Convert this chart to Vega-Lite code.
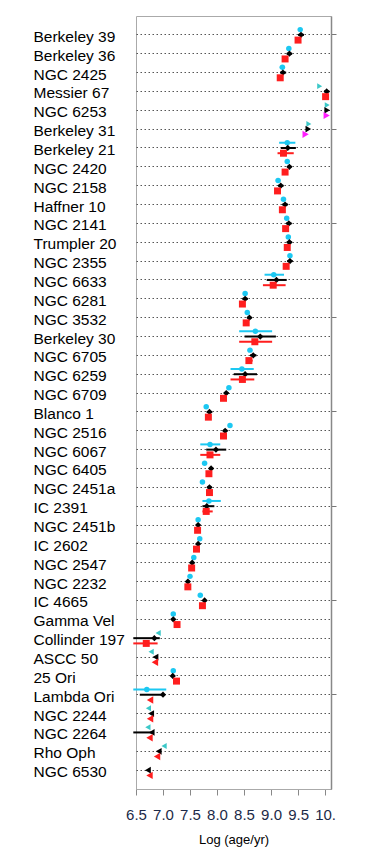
{
  "$schema": "https://vega.github.io/schema/vega-lite/v6.json",
  "autosize": "none",
  "width": 195,
  "height": 773,
  "padding": {"left": 136, "top": 16, "right": 51, "bottom": 76},
  "background": "white",
  "config": {
    "view": {"stroke": "#aaaaaa", "strokeWidth": 1},
    "font": "Liberation Sans",
    "axisX": {"labelOverlap": false, "labelFlush": false, "labelBound": false}
  },
  "data": {
    "values": [
      {"cluster": "Berkeley 39", "method": "A", "sym": "A", "value": 9.54},
      {"cluster": "Berkeley 39", "method": "B", "sym": "B", "value": 9.555, "lo": 9.5, "hi": 9.61},
      {"cluster": "Berkeley 39", "method": "C", "sym": "C", "value": 9.5},
      {"cluster": "Berkeley 36", "method": "A", "sym": "A", "value": 9.33, "lo": 9.29, "hi": 9.37},
      {"cluster": "Berkeley 36", "method": "B", "sym": "B", "value": 9.34, "lo": 9.29, "hi": 9.39},
      {"cluster": "Berkeley 36", "method": "C", "sym": "C", "value": 9.26, "lo": 9.22, "hi": 9.3},
      {"cluster": "NGC 2425", "method": "A", "sym": "A", "value": 9.21, "lo": 9.16, "hi": 9.26},
      {"cluster": "NGC 2425", "method": "B", "sym": "B", "value": 9.22, "lo": 9.17, "hi": 9.28},
      {"cluster": "NGC 2425", "method": "C", "sym": "C", "value": 9.17, "lo": 9.13, "hi": 9.21},
      {"cluster": "Messier 67", "method": "A", "sym": "A>", "value": 9.9},
      {"cluster": "Messier 67", "method": "B", "sym": "B", "value": 10.03, "lo": 9.98, "hi": 10.08},
      {"cluster": "Messier 67", "method": "C", "sym": "C", "value": 10.01, "lo": 9.97, "hi": 10.05},
      {"cluster": "NGC 6253", "method": "A", "sym": "A>", "value": 10.04},
      {"cluster": "NGC 6253", "method": "B", "sym": "B>", "value": 10.04},
      {"cluster": "NGC 6253", "method": "C", "sym": "C>", "value": 10.03},
      {"cluster": "Berkeley 31", "method": "A", "sym": "A>", "value": 9.7},
      {"cluster": "Berkeley 31", "method": "B", "sym": "B>", "value": 9.69},
      {"cluster": "Berkeley 31", "method": "C", "sym": "C>", "value": 9.64},
      {"cluster": "Berkeley 21", "method": "A", "sym": "A", "value": 9.3, "lo": 9.15, "hi": 9.45},
      {"cluster": "Berkeley 21", "method": "B", "sym": "B", "value": 9.31, "lo": 9.18, "hi": 9.46},
      {"cluster": "Berkeley 21", "method": "C", "sym": "C", "value": 9.23, "lo": 9.12, "hi": 9.42},
      {"cluster": "NGC 2420", "method": "A", "sym": "A", "value": 9.3},
      {"cluster": "NGC 2420", "method": "B", "sym": "B", "value": 9.34, "lo": 9.3, "hi": 9.38},
      {"cluster": "NGC 2420", "method": "C", "sym": "C", "value": 9.26},
      {"cluster": "NGC 2158", "method": "A", "sym": "A", "value": 9.13, "lo": 9.09, "hi": 9.17},
      {"cluster": "NGC 2158", "method": "B", "sym": "B", "value": 9.18, "lo": 9.13, "hi": 9.23},
      {"cluster": "NGC 2158", "method": "C", "sym": "C", "value": 9.12, "lo": 9.07, "hi": 9.17},
      {"cluster": "Haffner 10", "method": "A", "sym": "A", "value": 9.23, "lo": 9.19, "hi": 9.27},
      {"cluster": "Haffner 10", "method": "B", "sym": "B", "value": 9.26, "lo": 9.21, "hi": 9.31},
      {"cluster": "Haffner 10", "method": "C", "sym": "C", "value": 9.21, "lo": 9.17, "hi": 9.25},
      {"cluster": "NGC 2141", "method": "A", "sym": "A", "value": 9.29},
      {"cluster": "NGC 2141", "method": "B", "sym": "B", "value": 9.33, "lo": 9.28, "hi": 9.38},
      {"cluster": "NGC 2141", "method": "C", "sym": "C", "value": 9.27},
      {"cluster": "Trumpler 20", "method": "A", "sym": "A", "value": 9.32, "lo": 9.28, "hi": 9.36},
      {"cluster": "Trumpler 20", "method": "B", "sym": "B", "value": 9.34, "lo": 9.29, "hi": 9.39},
      {"cluster": "Trumpler 20", "method": "C", "sym": "C", "value": 9.3, "lo": 9.25, "hi": 9.35},
      {"cluster": "NGC 2355", "method": "A", "sym": "A", "value": 9.35, "lo": 9.31, "hi": 9.39},
      {"cluster": "NGC 2355", "method": "B", "sym": "B", "value": 9.35, "lo": 9.3, "hi": 9.4},
      {"cluster": "NGC 2355", "method": "C", "sym": "C", "value": 9.28, "lo": 9.23, "hi": 9.33},
      {"cluster": "NGC 6633", "method": "A", "sym": "A", "value": 9.05, "lo": 8.88, "hi": 9.24},
      {"cluster": "NGC 6633", "method": "B", "sym": "B", "value": 9.1, "lo": 8.92, "hi": 9.29},
      {"cluster": "NGC 6633", "method": "C", "sym": "C", "value": 9.04, "lo": 8.85, "hi": 9.27},
      {"cluster": "NGC 6281", "method": "A", "sym": "A", "value": 8.52, "lo": 8.48, "hi": 8.56},
      {"cluster": "NGC 6281", "method": "B", "sym": "B", "value": 8.52, "lo": 8.47, "hi": 8.57},
      {"cluster": "NGC 6281", "method": "C", "sym": "C", "value": 8.47, "lo": 8.43, "hi": 8.51},
      {"cluster": "NGC 3532", "method": "A", "sym": "A", "value": 8.56},
      {"cluster": "NGC 3532", "method": "B", "sym": "B", "value": 8.6, "lo": 8.56, "hi": 8.64},
      {"cluster": "NGC 3532", "method": "C", "sym": "C", "value": 8.54},
      {"cluster": "Berkeley 30", "method": "A", "sym": "A", "value": 8.71, "lo": 8.41, "hi": 9.02},
      {"cluster": "Berkeley 30", "method": "B", "sym": "B", "value": 8.8, "lo": 8.51, "hi": 9.09},
      {"cluster": "Berkeley 30", "method": "C", "sym": "C", "value": 8.7, "lo": 8.41, "hi": 9.02},
      {"cluster": "NGC 6705", "method": "A", "sym": "A", "value": 8.61, "lo": 8.57, "hi": 8.65},
      {"cluster": "NGC 6705", "method": "B", "sym": "B", "value": 8.67, "lo": 8.61, "hi": 8.73},
      {"cluster": "NGC 6705", "method": "C", "sym": "C", "value": 8.59, "lo": 8.54, "hi": 8.66},
      {"cluster": "NGC 6259", "method": "A", "sym": "A", "value": 8.46, "lo": 8.25, "hi": 8.68},
      {"cluster": "NGC 6259", "method": "B", "sym": "B", "value": 8.52, "lo": 8.31, "hi": 8.74},
      {"cluster": "NGC 6259", "method": "C", "sym": "C", "value": 8.47, "lo": 8.25, "hi": 8.69},
      {"cluster": "NGC 6709", "method": "A", "sym": "A", "value": 8.22},
      {"cluster": "NGC 6709", "method": "B", "sym": "B", "value": 8.17, "lo": 8.13, "hi": 8.21},
      {"cluster": "NGC 6709", "method": "C", "sym": "C", "value": 8.12},
      {"cluster": "Blanco 1", "method": "A", "sym": "A", "value": 7.8, "lo": 7.77, "hi": 7.83},
      {"cluster": "Blanco 1", "method": "B", "sym": "B", "value": 7.86, "lo": 7.81, "hi": 7.91},
      {"cluster": "Blanco 1", "method": "C", "sym": "C", "value": 7.84},
      {"cluster": "NGC 2516", "method": "A", "sym": "A", "value": 8.24},
      {"cluster": "NGC 2516", "method": "B", "sym": "B", "value": 8.15, "lo": 8.11, "hi": 8.19},
      {"cluster": "NGC 2516", "method": "C", "sym": "C", "value": 8.12},
      {"cluster": "NGC 6067", "method": "A", "sym": "A", "value": 7.87, "lo": 7.69, "hi": 8.06},
      {"cluster": "NGC 6067", "method": "B", "sym": "B", "value": 7.98, "lo": 7.8, "hi": 8.17},
      {"cluster": "NGC 6067", "method": "C", "sym": "C", "value": 7.87, "lo": 7.69, "hi": 8.06},
      {"cluster": "NGC 6405", "method": "A", "sym": "A", "value": 7.77, "lo": 7.74, "hi": 7.8},
      {"cluster": "NGC 6405", "method": "B", "sym": "B", "value": 7.89, "lo": 7.85, "hi": 7.93},
      {"cluster": "NGC 6405", "method": "C", "sym": "C", "value": 7.85, "lo": 7.82, "hi": 7.88},
      {"cluster": "NGC 2451a", "method": "A", "sym": "A", "value": 7.73, "lo": 7.7, "hi": 7.76},
      {"cluster": "NGC 2451a", "method": "B", "sym": "B", "value": 7.86, "lo": 7.82, "hi": 7.9},
      {"cluster": "NGC 2451a", "method": "C", "sym": "C", "value": 7.86, "lo": 7.82, "hi": 7.9},
      {"cluster": "IC 2391", "method": "A", "sym": "A", "value": 7.85, "lo": 7.73, "hi": 8.07},
      {"cluster": "IC 2391", "method": "B", "sym": "B", "value": 7.81, "lo": 7.73, "hi": 7.95},
      {"cluster": "IC 2391", "method": "C", "sym": "C", "value": 7.8, "lo": 7.73, "hi": 7.92},
      {"cluster": "NGC 2451b", "method": "A", "sym": "A", "value": 7.65},
      {"cluster": "NGC 2451b", "method": "B", "sym": "B", "value": 7.65, "lo": 7.62, "hi": 7.68},
      {"cluster": "NGC 2451b", "method": "C", "sym": "C", "value": 7.64},
      {"cluster": "IC 2602", "method": "A", "sym": "A", "value": 7.68, "lo": 7.65, "hi": 7.71},
      {"cluster": "IC 2602", "method": "B", "sym": "B", "value": 7.65, "lo": 7.62, "hi": 7.68},
      {"cluster": "IC 2602", "method": "C", "sym": "C", "value": 7.62},
      {"cluster": "NGC 2547", "method": "A", "sym": "A", "value": 7.57},
      {"cluster": "NGC 2547", "method": "B", "sym": "B", "value": 7.54, "lo": 7.51, "hi": 7.57},
      {"cluster": "NGC 2547", "method": "C", "sym": "C", "value": 7.53},
      {"cluster": "NGC 2232", "method": "A", "sym": "A", "value": 7.5},
      {"cluster": "NGC 2232", "method": "B", "sym": "B", "value": 7.46, "lo": 7.43, "hi": 7.49},
      {"cluster": "NGC 2232", "method": "C", "sym": "C", "value": 7.46},
      {"cluster": "IC 4665", "method": "A", "sym": "A", "value": 7.69},
      {"cluster": "IC 4665", "method": "B", "sym": "B", "value": 7.77, "lo": 7.74, "hi": 7.8},
      {"cluster": "IC 4665", "method": "C", "sym": "C", "value": 7.73},
      {"cluster": "Gamma Vel", "method": "A", "sym": "A", "value": 7.19},
      {"cluster": "Gamma Vel", "method": "B", "sym": "B", "value": 7.19, "lo": 7.16, "hi": 7.22},
      {"cluster": "Gamma Vel", "method": "C", "sym": "C", "value": 7.26},
      {"cluster": "Collinder 197", "method": "A", "sym": "A<", "value": 6.91},
      {"cluster": "Collinder 197", "method": "B", "sym": "B", "value": 6.84, "lo": 6.45, "hi": 6.94},
      {"cluster": "Collinder 197", "method": "C", "sym": "C", "value": 6.69, "lo": 6.45, "hi": 6.9},
      {"cluster": "ASCC 50", "method": "A", "sym": "A<", "value": 6.78},
      {"cluster": "ASCC 50", "method": "B", "sym": "B<", "value": 6.86},
      {"cluster": "ASCC 50", "method": "C", "sym": "C<", "value": 6.85},
      {"cluster": "25 Ori", "method": "A", "sym": "A", "value": 7.19},
      {"cluster": "25 Ori", "method": "B", "sym": "B", "value": 7.18, "lo": 7.15, "hi": 7.21},
      {"cluster": "25 Ori", "method": "C", "sym": "C", "value": 7.25},
      {"cluster": "Lambda Ori", "method": "A", "sym": "A", "value": 6.7, "lo": 6.45, "hi": 7.06},
      {"cluster": "Lambda Ori", "method": "B", "sym": "B", "value": 7.0, "lo": 6.57, "hi": 7.0},
      {"cluster": "Lambda Ori", "method": "C", "sym": "C<", "value": 6.76},
      {"cluster": "NGC 2244", "method": "A", "sym": "A<", "value": 6.73},
      {"cluster": "NGC 2244", "method": "B", "sym": "B<", "value": 6.78},
      {"cluster": "NGC 2244", "method": "C", "sym": "C<", "value": 6.76},
      {"cluster": "NGC 2264", "method": "A", "sym": "A<", "value": 6.72},
      {"cluster": "NGC 2264", "method": "B", "sym": "B<", "value": 6.79, "lo": 6.45, "hi": 6.79},
      {"cluster": "NGC 2264", "method": "C", "sym": "C<", "value": 6.75},
      {"cluster": "Rho Oph", "method": "A", "sym": "A<", "value": 7.02},
      {"cluster": "Rho Oph", "method": "B", "sym": "B<", "value": 6.92},
      {"cluster": "Rho Oph", "method": "C", "sym": "C<", "value": 6.89},
      {"cluster": "NGC 6530", "method": "B", "sym": "B<", "value": 6.72},
      {"cluster": "NGC 6530", "method": "C", "sym": "C<", "value": 6.75}
    ]
  },
  "layer": [
    {
      "mark": {"type": "rule", "strokeWidth": 2},
      "encoding": {
        "x": {"field": "lo", "type": "quantitative",
          "scale": {"domain": [6.5, 10.11], "nice": false, "zero": false},
          "axis": {"title": "Log (age/yr)", "values": [6.5,7,7.5,8,8.5,9,9.5,10], "labelExpr": "datum.value == 10 ? '10.' : format(datum.value, '.1f')", "labelOverlap": false, "grid": false, "tickSize": 6, "tickColor": "#888888", "domainColor": "#aaaaaa", "labelFont": "Liberation Sans", "labelFontSize": 15, "labelColor": "#1c2a48", "labelPadding": 12, "labelFlush": false, "titleFont": "Liberation Sans", "titleFontSize": 13, "titleFontWeight": "normal", "titleColor": "#000000", "titlePadding": 11}},
        "x2": {"field": "hi"},
        "y": {
          "field": "cluster", "type": "nominal",
          "scale": {"type": "band", "paddingInner": 0, "paddingOuter": 0.5, "domain": ["Berkeley 39","Berkeley 36","NGC 2425","Messier 67","NGC 6253","Berkeley 31","Berkeley 21","NGC 2420","NGC 2158","Haffner 10","NGC 2141","Trumpler 20","NGC 2355","NGC 6633","NGC 6281","NGC 3532","Berkeley 30","NGC 6705","NGC 6259","NGC 6709","Blanco 1","NGC 2516","NGC 6067","NGC 6405","NGC 2451a","IC 2391","NGC 2451b","IC 2602","NGC 2547","NGC 2232","IC 4665","Gamma Vel","Collinder 197","ASCC 50","25 Ori","Lambda Ori","NGC 2244","NGC 2264","Rho Oph","NGC 6530"]},
          "axis": {"orient": "right", "title": null, "labels": false, "grid": false, "bandPosition": 0.5, "values": ["Berkeley 39","Berkeley 31","NGC 2141","NGC 3532","Blanco 1","IC 2391","IC 4665","Lambda Ori"], "tickSize": 5, "tickColor": "#777777", "domainColor": "#888888", "domainWidth": 1.5}
        },
        "yOffset": {"field": "method", "type": "nominal", "scale": {"domain": ["A","B","C"], "paddingInner": 0, "paddingOuter": 0.3}},
        "color": {"field": "sym", "type": "nominal", "legend": null,
          "scale": {"domain": ["A","A>","A<","B","B>","B<","C","C>","C<"], "range": ["#1cc8f2","#3cc8c8","#3cc8c8","#000000","#000000","#000000","#ff1e1e","#ff1eff","#ff1e1e"]}}
      }
    },
    {
      "mark": {"type": "point", "filled": true, "opacity": 1},
      "encoding": {
        "x": {
          "field": "value", "type": "quantitative",
          "scale": {"domain": [6.5, 10.11], "nice": false, "zero": false},
          "axis": {"title": "Log (age/yr)", "values": [6.5,7,7.5,8,8.5,9,9.5,10], "labelExpr": "datum.value == 10 ? '10.' : format(datum.value, '.1f')", "labelOverlap": false, "grid": false, "tickSize": 6, "tickColor": "#888888", "domainColor": "#aaaaaa", "labelFont": "Liberation Sans", "labelFontSize": 15, "labelColor": "#1c2a48", "labelPadding": 12, "labelFlush": false, "titleFont": "Liberation Sans", "titleFontSize": 13, "titleFontWeight": "normal", "titleColor": "#000000", "titlePadding": 11}
        },
        "y": {
          "field": "cluster", "type": "nominal",
          "scale": {"type": "band", "paddingInner": 0, "paddingOuter": 0.5},
          "axis": {"orient": "left", "title": null, "ticks": false, "tickSize": 0, "domain": false, "grid": true, "bandPosition": 0.5, "gridColor": "#555555", "gridDash": [1.5, 2.5], "gridWidth": 1, "labelAlign": "left", "labelPadding": 103, "labelFont": "Liberation Sans", "labelFontSize": 15.5, "labelColor": "#000000", "labelOffset": 2, "labelLimit": 0}
        },
        "yOffset": {"field": "method", "type": "nominal", "scale": {"domain": ["A","B","C"], "paddingInner": 0, "paddingOuter": 0.3}},
        "color": {"field": "sym", "type": "nominal", "legend": null},
        "shape": {"field": "sym", "type": "nominal", "legend": null,
          "scale": {"domain": ["A","A>","A<","B","B>","B<","C","C>","C<"], "range": ["circle","triangle-right","triangle-left","diamond","triangle-right","triangle-left","square","triangle-right","triangle-left"]}},
        "size": {"field": "sym", "type": "nominal", "legend": null,
          "scale": {"domain": ["A","A>","A<","B","B>","B<","C","C>","C<"], "range": [30, 55, 55, 34, 55, 55, 36, 55, 55]}}
      }
    }
  ],
  "resolve": {"axis": {"y": "independent"}}
}
